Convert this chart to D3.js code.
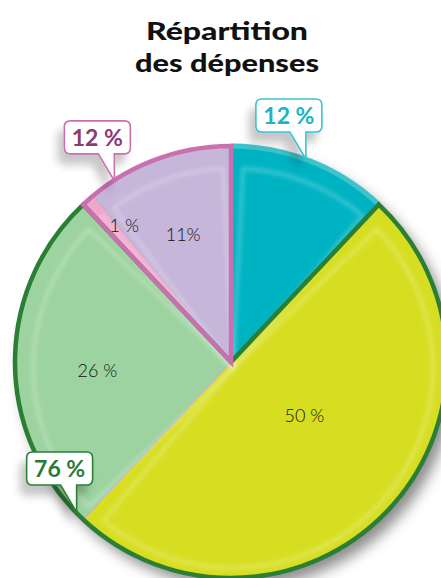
<!DOCTYPE html>
<html><head><meta charset="utf-8">
<script src="https://cdn.jsdelivr.net/npm/d3@7"></script>
<style>html,body{margin:0;padding:0;background:#fff;overflow:hidden}</style>
</head><body>
<svg id="c" width="441" height="578"></svg>
<script>
// ---- data ----
const titleLines = ["Répartition", "des dépenses"];
const categories = ["Teal", "Jaune", "Vert", "Rose", "Lilas"];
const values = [12, 50, 26, 1, 11];
const sliceLabels = ["", "50 %", "26 %", "1 %", "11%"];
const sliceColors = ["#03b3c3", "#d7de22", "#9dd3a0", "#efa8cc", "#c6b6da"];
const groupLabels = ["12 %", "76 %", "12 %"];
const groups = [
  {name: "teal", members: [0], label: groupLabels[0], stroke: "#3dc3cc", text: "#1db3c1", anchorAngle: 20},
  {name: "vert", members: [1, 2], label: groupLabels[1], stroke: "#2a7f35", text: "#2a7a34", anchorAngle: 226},
  {name: "rose", members: [3, 4], label: groupLabels[2], stroke: "#c970ae", text: "#8a3b72", anchorAngle: 327}
];
// label placement: [radius fraction, position within the slice's angle span]
const labelPos = [null, [0.42, 0.46], [0.62, 0.46], [0.80, 1.4], [0.63, 0.48]];

// ---- layout ----
const W = 441, H = 578, cx = 231, cy = 362, R = 216;
const svg = d3.select("#c");
const defs = svg.append("defs");
const sh = defs.append("filter").attr("id","shadow").attr("x","-30%").attr("y","-30%").attr("width","160%").attr("height","160%");
sh.append("feDropShadow").attr("dx",7).attr("dy",9).attr("stdDeviation",7).attr("flood-color","#000").attr("flood-opacity",0.45);
const csh = defs.append("filter").attr("id","cshadow").attr("x","-50%").attr("y","-50%").attr("width","200%").attr("height","200%");
csh.append("feDropShadow").attr("dx",-6).attr("dy",10).attr("stdDeviation",4).attr("flood-color","#000").attr("flood-opacity",0.22);
const blur = defs.append("filter").attr("id","blur");
blur.append("feGaussianBlur").attr("stdDeviation",2);

// title
svg.append("g").selectAll("text").data(titleLines).join("text")
  .attr("x", 227).attr("y", (d,i)=>40 + i*32)
  .attr("text-anchor","middle")
  .attr("font-family","Lato, 'Open Sans', sans-serif")
  .attr("font-weight",900).attr("font-size",25).attr("fill","#111")
  .attr("textLength",(d,i)=>i===0?162:184).attr("lengthAdjust","spacingAndGlyphs")
  .text(d=>d);

const pie = d3.pie().sort(null).value(d=>d);
const arcsData = pie(values);
const arc = d3.arc().innerRadius(0).outerRadius(R);
const g = svg.append("g").attr("transform",`translate(${cx},${cy})`);

// shadowed base
const base = g.append("g").attr("filter","url(#shadow)");
base.selectAll("path").data(arcsData).join("path")
  .attr("d", arc).attr("fill",(d,i)=>sliceColors[i])
  .attr("stroke","#bdb1d4").attr("stroke-width",1.2);

// glossy inner highlights
const hiArc = d3.arc().innerRadius(0).outerRadius(R-10);
g.append("g").attr("filter","url(#blur)").selectAll("path").data(arcsData).join("path")
  .attr("d", d=>{
    const pad = Math.min(0.05, (d.endAngle-d.startAngle)/4);
    return hiArc({startAngle:d.startAngle+pad, endAngle:d.endAngle-pad});
  })
  .attr("fill","none").attr("stroke","#fff").attr("stroke-opacity",0.3).attr("stroke-width",3)
  .attr("transform","translate(2,6) scale(0.97)");

// group outlines
groups.forEach(gr=>{
  const s = d3.min(gr.members, m=>arcsData[m].startAngle);
  const e = d3.max(gr.members, m=>arcsData[m].endAngle);
  if (gr.name === "teal") {
    g.append("path").attr("d", d3.arc().innerRadius(R-2.5).outerRadius(R+2.5)({startAngle:s, endAngle:e}))
      .attr("fill", gr.stroke);
  } else {
    g.append("path").attr("d", d3.arc().innerRadius(0).outerRadius(R)({startAngle:s, endAngle:e}))
      .attr("fill","none").attr("stroke", gr.stroke).attr("stroke-width",4.5).attr("stroke-linejoin","miter");
  }
});

// slice labels
const labelled = arcsData.filter(d=>sliceLabels[d.index]);
g.append("g").selectAll("text").data(labelled).join("text")
  .attr("transform",d=>{
    const lp = labelPos[d.index];
    const a = d.startAngle + (d.endAngle-d.startAngle)*lp[1];
    const r = R*lp[0];
    return `translate(${r*Math.sin(a)},${-r*Math.cos(a)})`;
  })
  .attr("text-anchor","middle").attr("dy","0.35em")
  .attr("font-family","Lato, 'Open Sans', sans-serif").attr("font-weight",300)
  .attr("font-size",18).attr("fill","#111")
  .text(d=>sliceLabels[d.index]);

// callouts
const cg = svg.append("g");
groups.forEach(gr=>{
  const a = gr.anchorAngle*Math.PI/180;
  const tx = cx + R*Math.sin(a), ty = cy - R*Math.cos(a);
  const bl = tx-49, br = tx+17, bb = ty-27, bt = bb-33, rr = 6;
  const p = d3.path();
  p.moveTo(bl+rr, bt);
  p.lineTo(br-rr, bt); p.quadraticCurveTo(br, bt, br, bt+rr);
  p.lineTo(br, bb-rr); p.quadraticCurveTo(br, bb, br-rr, bb);
  p.lineTo(tx+1, bb); p.lineTo(tx+1, ty); p.lineTo(tx-15, bb);
  p.lineTo(bl+rr, bb); p.quadraticCurveTo(bl, bb, bl, bb-rr);
  p.lineTo(bl, bt+rr); p.quadraticCurveTo(bl, bt, bl+rr, bt);
  p.closePath();
  cg.append("path").attr("d", p.toString()).attr("fill","#fff")
    .attr("stroke", gr.stroke).attr("stroke-width",1.6).attr("filter","url(#cshadow)");
  cg.append("text").attr("x",(bl+br)/2).attr("y",(bt+bb)/2).attr("dy","0.36em")
    .attr("text-anchor","middle").attr("font-family","Lato, 'Open Sans', sans-serif")
    .attr("font-weight","bold").attr("font-size",23).attr("fill",gr.text).text(gr.label);
});
</script>
</body></html>
